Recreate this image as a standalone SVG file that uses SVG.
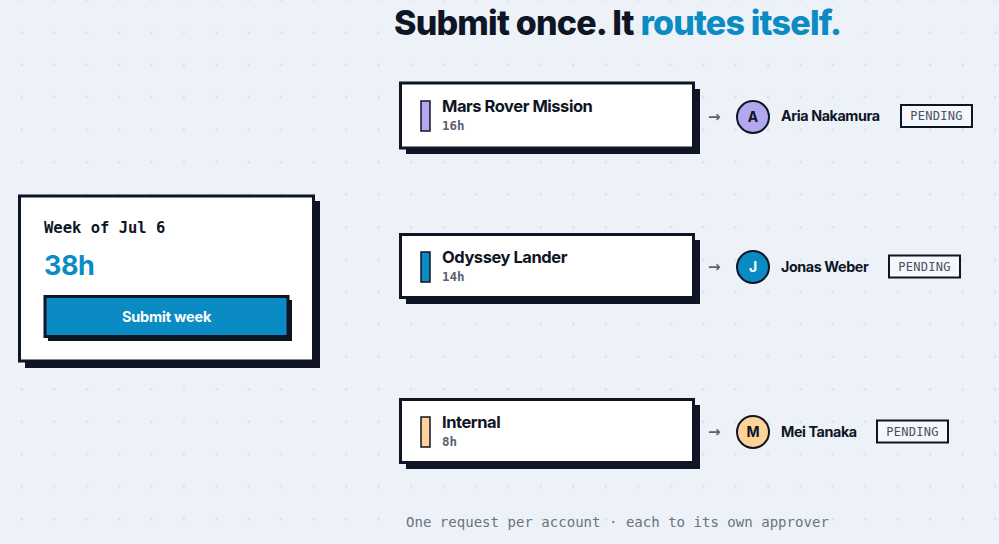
<svg xmlns="http://www.w3.org/2000/svg" width="999" height="544" viewBox="0 0 999 544">
<defs>
<pattern id="dots" x="5.5" y="-16.2" width="32.45" height="32.45" patternUnits="userSpaceOnUse">
<circle cx="16.2" cy="16.2" r="1.1" fill="#d3d9e2"/>
</pattern>
<style>
.bg{fill:#edf2f9}
.card{fill:#ffffff;stroke:#0f1525;stroke-width:3}
.shadow{fill:#0f1525}
.title{font-family:Inter,"Liberation Sans",sans-serif;font-weight:800;font-size:34px;letter-spacing:-0.8px;fill:#0f1525}
.blue{fill:#0a8bc4}
.mono{font-family:"DejaVu Sans Mono","Liberation Mono",monospace}
.proj{font-family:Inter,"Liberation Sans",sans-serif;font-weight:700;font-size:16.5px;fill:#0f1525;letter-spacing:-0.45px}
.hrs{font-family:"DejaVu Sans Mono","Liberation Mono",monospace;font-weight:700;font-size:12.5px;fill:#5b6271}
.bar{stroke:#0f1525;stroke-width:1.5}
.name{font-family:Inter,"Liberation Sans",sans-serif;font-weight:700;font-size:14.3px;fill:#0f1525;letter-spacing:-0.4px}
.av{stroke:#0f1525;stroke-width:2}
.ini{font-family:Inter,"Liberation Sans",sans-serif;font-weight:700;font-size:14px;text-anchor:middle}
.pend{fill:#f4f7fb;stroke:#0f1525;stroke-width:2}
.pendt{font-family:"DejaVu Sans Mono","Liberation Mono",monospace;font-size:12px;fill:#4a5061;text-anchor:middle;letter-spacing:0.3px}
.arrow{font-family:"DejaVu Sans","Liberation Sans",sans-serif;font-size:15px;fill:#5b6271;font-weight:700}
</style>
</defs>
<rect class="bg" width="999" height="544"/>
<rect fill="url(#dots)" width="999" height="544"/>

<g id="title">
<text class="title" x="394" y="35">Submit once. It <tspan class="blue">routes itself.</tspan></text>
</g>

<g id="week-card">
<rect class="shadow" x="25" y="201" width="295" height="167"/>
<rect class="card" x="19.5" y="196" width="294" height="165"/>
<text class="mono" x="44" y="233" font-size="15.5" font-weight="700" fill="#0f1525">Week of Jul 6</text>
<text x="44" y="275" font-family="Inter,'Liberation Sans',sans-serif" font-weight="700" font-size="27" fill="#0a8bc4" letter-spacing="-0.5">38h</text>
<g id="submit-button">
<rect class="shadow" x="48" y="300" width="244" height="41"/>
<rect x="45" y="296.5" width="243" height="40" fill="#0a8bc4" stroke="#0f1525" stroke-width="3"/>
<text x="166.5" y="322" text-anchor="middle" font-family="Inter,'Liberation Sans',sans-serif" font-weight="700" font-size="14.5" fill="#ffffff" letter-spacing="-0.2">Submit week</text>
</g>
</g>

<g id="connectors">
<text class="arrow" x="708" y="122">→</text>
<text class="arrow" x="708" y="272">→</text>
<text class="arrow" x="708" y="437">→</text>
</g>

<g id="mars-rover">
<rect class="shadow" x="406" y="89" width="294" height="65"/>
<rect class="card" x="400.5" y="83" width="293" height="65"/>
<rect class="bar" x="421" y="101" width="9" height="30" fill="#b3a7f0"/>
<text class="proj" x="442" y="112">Mars Rover Mission</text>
<text class="hrs" x="442" y="130">16h</text>
</g>

<g id="odyssey-lander">
<rect class="shadow" x="406" y="240" width="294" height="64"/>
<rect class="card" x="400.5" y="234.5" width="293" height="63"/>
<rect class="bar" x="421" y="252" width="9" height="30" fill="#0a8bc4"/>
<text class="proj" x="442" y="263">Odyssey Lander</text>
<text class="hrs" x="442" y="281">14h</text>
</g>

<g id="internal">
<rect class="shadow" x="406" y="405" width="294" height="64"/>
<rect class="card" x="400.5" y="399.5" width="293" height="63"/>
<rect class="bar" x="421" y="417" width="9" height="30" fill="#fdd39a"/>
<text class="proj" x="442" y="428">Internal</text>
<text class="hrs" x="442" y="446">8h</text>
</g>

<g id="aria-nakamura">
<circle class="av" cx="753" cy="117" r="16" fill="#b3a7f0"/>
<text class="ini" x="753" y="122" fill="#0f1525">A</text>
<text class="name" x="781" y="121">Aria Nakamura</text>
<rect class="pend" x="901" y="105" width="71" height="22"/>
<text class="pendt" x="936.5" y="120">PENDING</text>
</g>

<g id="jonas-weber">
<circle class="av" cx="753" cy="267" r="16" fill="#0a8bc4"/>
<text class="ini" x="753" y="272" fill="#ffffff">J</text>
<text class="name" x="781" y="272">Jonas Weber</text>
<rect class="pend" x="889" y="255.5" width="71" height="22"/>
<text class="pendt" x="924.5" y="271">PENDING</text>
</g>

<g id="mei-tanaka">
<circle class="av" cx="753" cy="432" r="16" fill="#fdd39a"/>
<text class="ini" x="753" y="437" fill="#0f1525">M</text>
<text class="name" x="781" y="437">Mei Tanaka</text>
<rect class="pend" x="877" y="420.5" width="71" height="22"/>
<text class="pendt" x="912.5" y="436">PENDING</text>
</g>

<g id="footer">
<text class="mono" x="406" y="527" font-size="14.05" fill="#6b7280">One request per account · each to its own approver</text>
</g>
</svg>
